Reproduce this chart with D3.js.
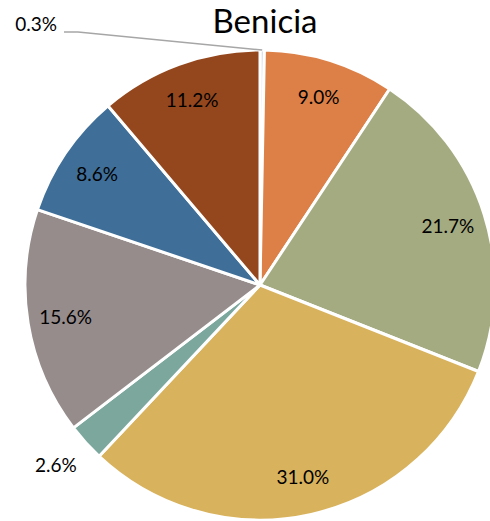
<!DOCTYPE html>
<html>
<head>
<meta charset="utf-8">
<script src="https://cdn.jsdelivr.net/npm/d3@7"></script>
<style>
  body { margin: 0; background: #fff; }
  text { font-family: Lato, "Liberation Sans", sans-serif; }
</style>
</head>
<body>
<div id="chart"></div>
<script>
// slice data, clockwise from 12 o'clock
var categories = ["A", "B", "C", "D", "E", "F", "G", "H"];
var shares = [0.3, 9.0, 21.7, 31.0, 2.6, 15.6, 8.6, 11.2];
var labels = ["0.3%", "9.0%", "21.7%", "31.0%", "2.6%", "15.6%", "8.6%", "11.2%"];
var colors = ["#cdd8e4", "#dd8047", "#a5ab81", "#d8b25c", "#7ba79d", "#968c8c", "#3f6f98", "#94471d"];

var svgWidth = 490;
var svgHeight = 521;
var cx = 260, cy = 285, radius = 235;

var svg = d3.select("#chart")
  .append("svg")
  .attr("width", svgWidth)
  .attr("height", svgHeight);

svg.append("text")
  .attr("x", 265)
  .attr("y", 33)
  .attr("text-anchor", "middle")
  .style("font-size", "33px")
  .style("fill", "#000")
  .text("Benicia");

var pieGroup = svg.append("g")
  .attr("transform", `translate(${cx}, ${cy})`);

var pie = d3.pie().sort(null).value(d => d);
var arcs = pie(shares);

var arc = d3.arc().innerRadius(0).outerRadius(radius);
var labelArc = d3.arc().innerRadius(197).outerRadius(197);

pieGroup.selectAll("path")
  .data(arcs)
  .enter()
  .append("path")
  .attr("d", arc)
  .attr("fill", (d, i) => colors[i])
  .attr("stroke", "white")
  .attr("stroke-width", 3)
  .attr("stroke-linejoin", "round");

// inside labels (all but the two small slices)
pieGroup.selectAll("text.inlabel")
  .data(arcs.filter((d, i) => i != 0 && i != 4))
  .enter()
  .append("text")
  .attr("class", "inlabel")
  .attr("x", d => labelArc.centroid(d)[0])
  .attr("y", d => labelArc.centroid(d)[1])
  .attr("dy", "0.35em")
  .attr("text-anchor", "middle")
  .style("font-size", "19px")
  .style("fill", "#000")
  .text(d => labels[d.index]);

// 2.6% label, outside
var small = arcs[4];
var outerPt = d3.arc().innerRadius(radius + 12).outerRadius(radius + 12).centroid(small);
pieGroup.append("text")
  .attr("x", outerPt[0])
  .attr("y", outerPt[1] + 15)
  .attr("dy", "0.35em")
  .attr("text-anchor", "end")
  .style("font-size", "19px")
  .style("fill", "#000")
  .text(labels[4]);

// 0.3% label with leader line
var tiny = arcs[0];
var edge = d3.arc().innerRadius(radius).outerRadius(radius).centroid(tiny);
var lx = 64 - cx, ly = 32 - cy;
pieGroup.append("polyline")
  .attr("points", [[edge[0], edge[1]], [lx + 14, ly], [lx, ly]].map(p => p.join(",")).join(" "))
  .attr("fill", "none")
  .attr("stroke", "#a6a6a6")
  .attr("stroke-width", 1.5);

pieGroup.append("text")
  .attr("x", lx - 7)
  .attr("y", ly - 8)
  .attr("dy", "0.35em")
  .attr("text-anchor", "end")
  .style("font-size", "19px")
  .style("fill", "#000")
  .text(labels[0]);
</script>
</body>
</html>
